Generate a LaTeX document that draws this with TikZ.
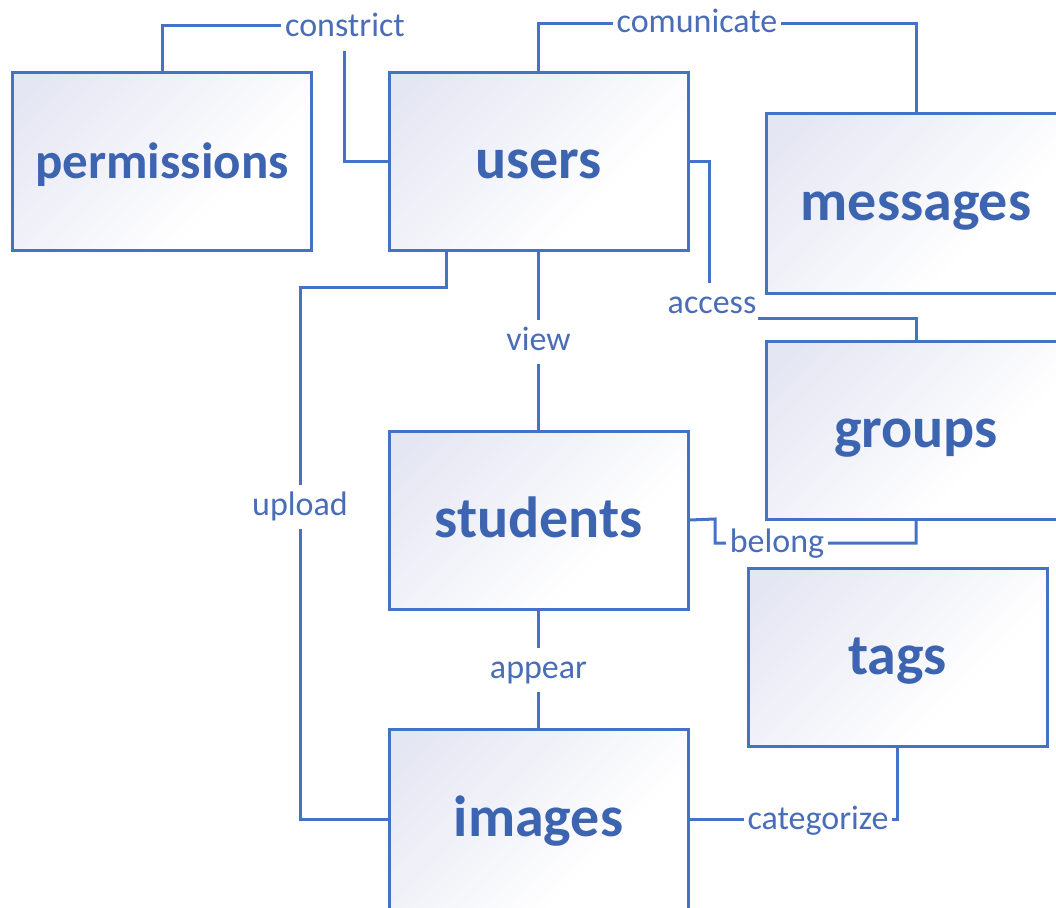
\documentclass[tikz,border=0pt]{standalone}
\usepackage{fontspec}
\setmainfont{Carlito}
\definecolor{lineblue}{HTML}{4472C4}
\definecolor{textblue}{HTML}{3D64B0}
\definecolor{lblblue}{HTML}{4A6DB8}
\definecolor{lav}{HTML}{E4E6F3}
\pgfdeclareverticalshading{boxsh}{100bp}{color(0bp)=(white); color(35bp)=(white); color(80bp)=(lav); color(100bp)=(lav)}
\tikzset{
  entity/.style={draw=lineblue, line width=3pt, shading=boxsh, shading angle=45,
    minimum width=299pt, minimum height=178pt, inner sep=0pt,
    text height=40pt, text depth=6pt,
    text=textblue, font=\bfseries\fontsize{58}{60}\selectfont},
  conn/.style={draw=lineblue, line width=3pt},
  lbl/.style={fill=white, inner sep=4pt, text height=26pt, text depth=10pt,
    text=lblblue, font=\fontsize{34}{36}\selectfont}
}
\begin{document}
\begin{tikzpicture}[x=1pt, y=-1pt]
\useasboundingbox (0,0) rectangle (1056,907);
% entities
\node[entity, font=\bfseries\fontsize{51}{53}\selectfont] (permissions) at (162,161) {permissions};
\node[entity] (users) at (538.5,161) {users};
\node[entity, minimum height=180pt] (messages) at (916,203) {messages};
\node[entity] (groups) at (916,430) {groups};
\node[entity] (students) at (538.5,520) {students};
\node[entity] (tags) at (897.5,657.5) {tags};
\node[entity, minimum height=180pt] (images) at (538.5,819) {images};
% corner coordinates
\coordinate (cc) at (344,26);
\coordinate (cm1) at (538.5,24);
\coordinate (cm2) at (916,24);
\coordinate (ca1) at (709,161);
\coordinate (ca2) at (709,318);
\coordinate (cb1) at (715,519);
\coordinate (cb2) at (715,543);
\coordinate (cu) at (300,287);
% connectors
\draw[conn] (permissions.north) |- (cc) |- (users.west);
\draw[conn] (users.north) -- (cm1) -- (cm2) -- (messages.north);
\draw[conn] (users.east) -- (ca1) -- (ca2) -| (groups.north);
\draw[conn] (users.south) -- (students.north);
\draw[conn] ([xshift=-92.5pt]users.south) |- (cu) |- (images.west);
\draw[conn] (students.east) -- (cb1) -- (cb2) -| (groups.south);
\draw[conn] (students.south) -- (images.north);
\draw[conn] (images.east) -| (tags.south);
% labels
\node[lbl] (lconstrict) at (345,29) {constrict};
\node[lbl] (lcomm) at (697,25) {comunicate};
\node[lbl, inner xsep=2pt] (laccess) at (712,305) {access};
\node[lbl] (lview) at (538.5,342) {view};
\node[lbl] (lupload) at (300,507) {upload};
\node[lbl] (lbelong) at (777,544) {belong};
\node[lbl] (lappear) at (538.5,670) {appear};
\node[lbl] (lcat) at (818,821) {categorize};
\end{tikzpicture}
\end{document}
